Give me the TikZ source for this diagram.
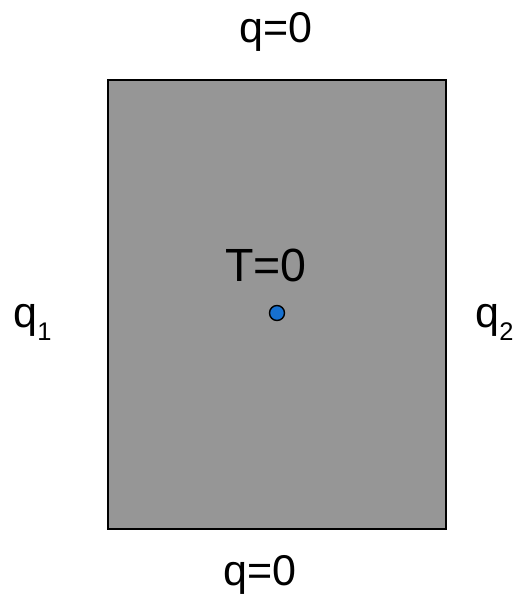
\documentclass[tikz,border=0pt]{standalone}
\usepackage{fontspec}
\setmainfont{Liberation Sans}
\definecolor{plategray}{RGB}{150,150,150}
\definecolor{dotblue}{RGB}{22,112,208}
\newcommand{\subidx}[1]{\raisebox{-7.4pt}{\fontsize{14.5}{15}\selectfont #1}}

\begin{document}
\begin{tikzpicture}[
  x=0.02cm, y=-0.02cm,
  lbl/.style={inner sep=0pt, anchor=base, font=\fontsize{24.5}{29}\selectfont},
  plate/.style={draw=black, line width=1.6pt, fill=plategray, minimum width=6.76cm, minimum height=8.98cm, inner sep=0pt},
  probe/.style={circle, draw=black, line width=0.8pt, fill=dotblue, minimum size=0.3cm, inner sep=0pt},
]
\useasboundingbox (0,0) rectangle (520,596);

% the plate
\node[plate] (plate) at (277,304.5) {};

% boundary conditions
\node[lbl] (qtop) at (276,42) {q=0};
\node[lbl] (qbot) at (260,585) {q=0};
\node[lbl, anchor=base west] (qleft) at (13,327) {q\subidx{1}};
\node[lbl, anchor=base west] (qright) at (475,327) {q\subidx{2}};

% fixed point
\node[lbl, font=\fontsize{26.5}{31}\selectfont] (tfix) at (266,281) {T=0};
\node[probe] (pt) at (277,313) {};

\end{tikzpicture}
\end{document}
